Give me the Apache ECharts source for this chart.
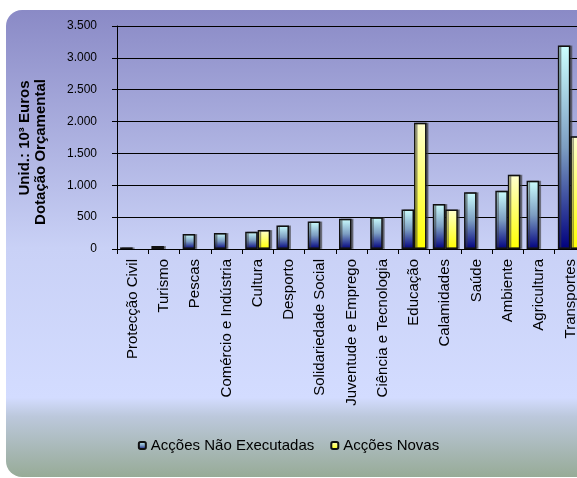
<!DOCTYPE html>
<html>
<head>
<meta charset="utf-8">
<script src="https://cdn.jsdelivr.net/npm/echarts@6/dist/echarts.min.js"></script>
<style>
html,body{margin:0;padding:0;background:#fff;}
#chart{width:577px;height:478px;}
</style>
</head>
<body>
<div id="chart"></div>
<script>
// categorias (sectores)
var sectores = ["Protecção Civil","Turismo","Pescas","Comércio e Indústria","Cultura","Desporto",
	"Solidariedade Social","Juventude e Emprego","Ciência e Tecnologia","Educação","Calamidades",
	"Saúde","Ambiente","Agricultura","Transportes"];
// Acções Não Executadas
var naoExecutadas = [25, 47, 234, 250, 270, 370, 432, 475, 500, 619, 708, 890, 916, 1072, 3192];
// Acções Novas
var novas = ['-', '-', '-', '-', 297, '-', '-', '-', '-', 1980, 619, '-', 1166, '-', 1770];
var yTicks = [0, 3500, 500];

function milhares(v){
	return String(v).replace(/\B(?=(\d{3})+(?!\d))/g, '.');
}

var myChart = echarts.init(document.getElementById('chart'));
var option = {
	animation: false,
	graphic: [
		{//fundo
			type: 'rect', z: -10, silent: true,
			shape: {x: 6, y: 10, width: 640, height: 467, r: 16},
			style: {
				fill: {
					type: 'linear', x: 0, y: 0, x2: 0, y2: 1,
					colorStops: [
						{offset: 0, color: '#8a8ac6'},
						{offset: 0.51, color: '#c9d1f6'},
						{offset: 0.83, color: '#d3dcff'},
						{offset: 0.87, color: '#bcc8dc'},
						{offset: 1, color: '#97ab97'}
					]
				}
			}
		},
		{
			type: 'text', rotation: Math.PI / 2, x: 25, y: 138,
			style: {text: 'Unid.: 10³ Euros', fontSize: 15, fontWeight: 'bold',
				fontFamily: 'Liberation Sans, Arial', fill: '#000', align: 'center', verticalAlign: 'middle'}
		},
		{
			type: 'text', rotation: Math.PI / 2, x: 41, y: 152,
			style: {text: 'Dotação Orçamental', fontSize: 15, fontWeight: 'bold',
				fontFamily: 'Liberation Sans, Arial', fill: '#000', align: 'center', verticalAlign: 'middle'}
		}
	],
	grid: {left: 117, width: 469, top: 26, bottom: 229, containLabel: false, outerBoundsMode: 'none'},
	legend: {
		data: ['Acções Não Executadas', 'Acções Novas'],
		bottom: 20, left: 'center',
		itemWidth: 7, itemHeight: 7, itemGap: 16,
		textStyle: {fontSize: 15, color: '#000', fontFamily: 'Liberation Sans, Arial'}
	},
	xAxis: {
		type: 'category',
		data: sectores,
		axisLine: {lineStyle: {color: '#000', width: 1}},
		axisTick: {show: true, length: 5, lineStyle: {color: '#000'}},
		axisLabel: {
			interval: 0, rotate: 90, margin: 10,
			fontSize: 15, color: '#000', fontFamily: 'Liberation Sans, Arial'
		}
	},
	yAxis: {
		type: 'value',
		min: yTicks[0], max: yTicks[1], interval: yTicks[2],
		axisLine: {show: true, lineStyle: {color: '#000', width: 1}},
		axisTick: {show: true, length: 5, lineStyle: {color: '#000'}},
		splitLine: {lineStyle: {color: '#000', width: 1}},
		axisLabel: {
			margin: 20, fontSize: 12, color: '#000',
			fontFamily: 'Liberation Sans, Arial',
			formatter: milhares
		}
	},
	series: [
		{
			name: 'Acções Não Executadas',
			type: 'bar',
			data: naoExecutadas,
			barGap: 0,
			barCategoryGap: '20%',
			itemStyle: {
				color: {type: 'linear', x: 0, y: 0, x2: 0, y2: 1,
					colorStops: [{offset: 0, color: '#ccffff'}, {offset: 0.5, color: '#7d9ec2'}, {offset: 1, color: '#00007e'}]},
				borderColor: '#111', borderWidth: 1.5,
				shadowColor: 'rgba(60,60,60,0.55)', shadowOffsetX: 2, shadowOffsetY: 0, shadowBlur: 0
			}
		},
		{
			name: 'Acções Novas',
			type: 'bar',
			data: novas,
			barGap: 0,
			barCategoryGap: '20%',
			itemStyle: {
				color: {type: 'linear', x: 0, y: 0, x2: 0, y2: 1,
					colorStops: [{offset: 0, color: '#ffffd0'}, {offset: 1, color: '#ffff00'}]},
				borderColor: '#111', borderWidth: 1.5,
				shadowColor: 'rgba(60,60,60,0.55)', shadowOffsetX: 2, shadowOffsetY: 0, shadowBlur: 0
			}
		}
	]
};
myChart.setOption(option);
</script>
</body>
</html>
